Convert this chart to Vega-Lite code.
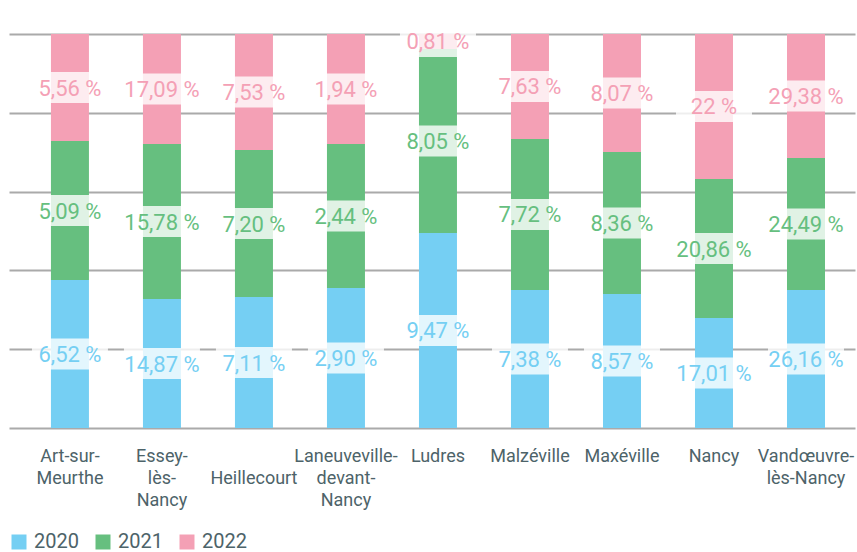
{
  "$schema": "https://vega.github.io/schema/vega-lite/v6.json",
  "width": 846,
  "height": 394,
  "autosize": {"type": "none"},
  "padding": {"left": 9, "top": 34, "right": 2, "bottom": 124},
  "background": "white",
  "config": {
    "view": {"stroke": null},
    "font": "Roboto"
  },
  "data": {
    "values": [
      {"commune": "Art-sur-Meurthe", "annee": "2020", "part": 37.6, "label": "6,52 %"},
      {"commune": "Art-sur-Meurthe", "annee": "2021", "part": 35.3, "label": "5,09 %"},
      {"commune": "Art-sur-Meurthe", "annee": "2022", "part": 27.2, "label": "5,56 %"},
      {"commune": "Essey-lès-Nancy", "annee": "2020", "part": 32.7, "label": "14,87 %"},
      {"commune": "Essey-lès-Nancy", "annee": "2021", "part": 39.3, "label": "15,78 %"},
      {"commune": "Essey-lès-Nancy", "annee": "2022", "part": 27.9, "label": "17,09 %"},
      {"commune": "Heillecourt", "annee": "2020", "part": 33.2, "label": "7,11 %"},
      {"commune": "Heillecourt", "annee": "2021", "part": 37.3, "label": "7,20 %"},
      {"commune": "Heillecourt", "annee": "2022", "part": 29.4, "label": "7,53 %"},
      {"commune": "Laneuveville-devant-Nancy", "annee": "2020", "part": 35.5, "label": "2,90 %"},
      {"commune": "Laneuveville-devant-Nancy", "annee": "2021", "part": 36.5, "label": "2,44 %"},
      {"commune": "Laneuveville-devant-Nancy", "annee": "2022", "part": 27.9, "label": "1,94 %"},
      {"commune": "Ludres", "annee": "2020", "part": 49.5, "label": "9,47 %"},
      {"commune": "Ludres", "annee": "2021", "part": 46.7, "label": "8,05 %"},
      {"commune": "Ludres", "annee": "2022", "part": 3.8, "label": "0,81 %"},
      {"commune": "Malzéville", "annee": "2020", "part": 35.0, "label": "7,38 %"},
      {"commune": "Malzéville", "annee": "2021", "part": 38.3, "label": "7,72 %"},
      {"commune": "Malzéville", "annee": "2022", "part": 26.6, "label": "7,63 %"},
      {"commune": "Maxéville", "annee": "2020", "part": 34.0, "label": "8,57 %"},
      {"commune": "Maxéville", "annee": "2021", "part": 36.0, "label": "8,36 %"},
      {"commune": "Maxéville", "annee": "2022", "part": 29.9, "label": "8,07 %"},
      {"commune": "Nancy", "annee": "2020", "part": 27.9, "label": "17,01 %"},
      {"commune": "Nancy", "annee": "2021", "part": 35.3, "label": "20,86 %"},
      {"commune": "Nancy", "annee": "2022", "part": 36.8, "label": "22 %"},
      {"commune": "Vandœuvre-lès-Nancy", "annee": "2020", "part": 35.0, "label": "26,16 %"},
      {"commune": "Vandœuvre-lès-Nancy", "annee": "2021", "part": 33.5, "label": "24,49 %"},
      {"commune": "Vandœuvre-lès-Nancy", "annee": "2022", "part": 31.5, "label": "29,38 %"}
    ]
  },
  "encoding": {
    "x": {
      "field": "commune",
      "type": "nominal",
      "sort": null,
      "scale": {"paddingInner": 0.587, "paddingOuter": 0.391, "align": 0.583},
      "axis": {
        "title": null,
        "domain": false,
        "ticks": false,
        "grid": false,
        "labelAngle": 0,
        "labelFont": "Roboto",
        "labelFontSize": 18,
        "labelColor": "#4d6369",
        "labelPadding": 19,
        "labelBaseline": "top",
        "labelLineHeight": 22,
        "labelOverlap": false,
        "labelBound": false,
        "labelFlush": false,
        "labelExpr": "datum.value == 'Art-sur-Meurthe' ? ['Art-sur-', 'Meurthe'] : datum.value == 'Essey-lès-Nancy' ? ['Essey-', 'lès-', 'Nancy'] : datum.value == 'Heillecourt' ? [' ', 'Heillecourt'] : datum.value == 'Laneuveville-devant-Nancy' ? ['Laneuveville-', 'devant-', 'Nancy'] : datum.value == 'Vandœuvre-lès-Nancy' ? ['Vandœuvre-', 'lès-Nancy'] : datum.value"
      }
    },
    "order": {"field": "annee", "type": "nominal", "sort": "ascending"}
  },
  "layer": [
    {
      "mark": {"type": "bar"},
      "encoding": {
        "y": {
          "field": "part",
          "type": "quantitative",
          "stack": "normalize",
          "axis": {
            "title": null,
            "labels": false,
            "ticks": false,
            "domain": false,
            "grid": true,
            "tickCount": 5,
            "gridColor": "#aaaaaa",
            "gridWidth": 2
          }
        },
        "color": {
          "field": "annee",
          "type": "nominal",
          "scale": {"domain": ["2020", "2021", "2022"], "range": ["#75cff3", "#66bf7f", "#f4a0b5"]},
          "legend": {
            "title": null,
            "orient": "none",
            "legendX": 0,
            "legendY": 498,
            "direction": "horizontal",
            "symbolType": "square",
            "symbolSize": 225,
            "symbolStrokeWidth": 0,
            "symbolOpacity": 1,
            "labelFont": "Roboto",
            "labelFontSize": 20,
            "labelColor": "#4d6369",
            "labelOffset": 5,
            "columnPadding": 14,
            "padding": 0
          }
        }
      }
    },
    {
      "mark": {
        "type": "point",
        "shape": "M-1,-0.408L1,-0.408L1,0.408L-1,0.408Z",
        "size": 5776,
        "filled": true,
        "fill": "white",
        "fillOpacity": 0.8,
        "strokeWidth": 0,
        "opacity": 1
      },
      "encoding": {
        "y": {"field": "part", "type": "quantitative", "stack": "normalize", "bandPosition": 0.5},
        "detail": {"field": "annee", "type": "nominal"}
      }
    },
    {
      "mark": {"type": "text", "font": "Roboto", "fontSize": 22, "baseline": "middle", "align": "center", "dy": 1},
      "encoding": {
        "y": {"field": "part", "type": "quantitative", "stack": "normalize", "bandPosition": 0.5},
        "color": {"field": "annee", "type": "nominal", "legend": null},
        "text": {"field": "label", "type": "nominal"}
      }
    }
  ]
}
